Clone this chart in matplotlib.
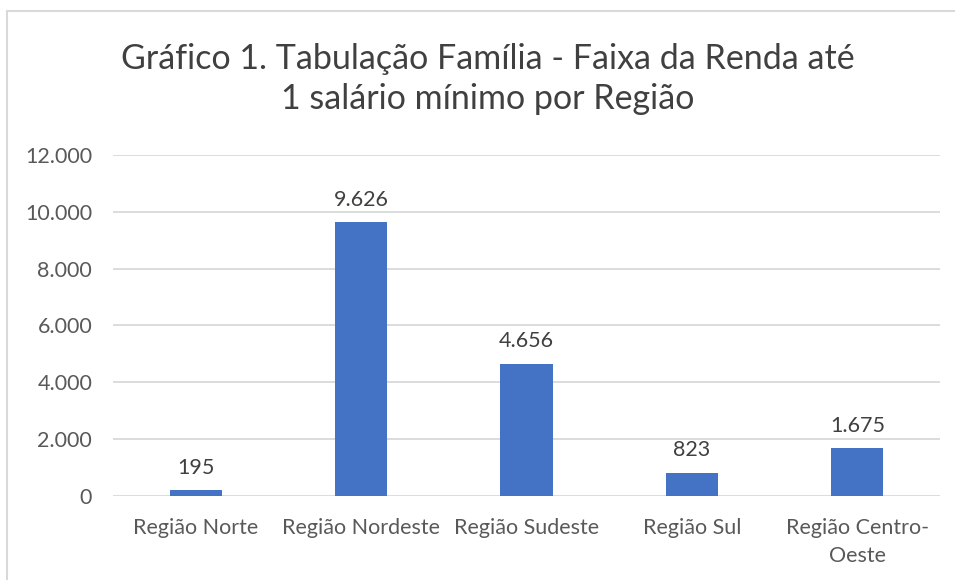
import matplotlib.pyplot as plt
from matplotlib.patches import Rectangle

regioes = ['Região Norte', 'Região Nordeste', 'Região Sudeste', 'Região Sul', 'Região Centro-\nOeste']
familias = [195, 9626, 4656, 823, 1675]
yticks = [0, 2000, 4000, 6000, 8000, 10000, 12000]

plt.rcParams['font.family'] = ['Lato', 'DejaVu Sans']

def fmt(v):
    return f'{v:,}'.replace(',', '.')

fig = plt.figure(figsize=(9.55, 5.8), dpi=100)
ax = fig.add_axes([0.1183, 0.1448, 0.8660, 0.5880])

x = range(len(regioes))
ax.bar(x, familias, width=0.315, color='#4472c4', zorder=3)
for i, v in zip(x, familias):
    ax.annotate(fmt(v), (i, v), xytext=(0, 9), textcoords='offset points',
                ha='center', va='bottom', fontsize=15.5, color='#404040')

ax.set_xlim(-0.5, len(regioes) - 0.5)
ax.set_ylim(0, 12000)
ax.set_yticks(yticks)
ax.set_yticklabels([fmt(t) for t in yticks])
ax.set_xticks(list(x))
ax.set_xticklabels(regioes, linespacing=1.5)
ax.tick_params(axis='both', length=0, labelsize=15.5, labelcolor='#595959')
ax.tick_params(axis='y', pad=15)
ax.tick_params(axis='x', pad=16)
ax.grid(axis='y', color='#d9d9d9', linewidth=1.3, zorder=0)
for s in ax.spines.values():
    s.set_visible(False)

fig.text(0.511, 0.864, 'Gráfico 1. Tabulação Família - Faixa da Renda até\n1 salário mínimo por Região',
         ha='center', va='center', fontsize=24.5, color='#404040', linespacing=1.33)

fig.patches.append(Rectangle((7 / 955, -0.1), 1.1, 1 - 11 / 580 + 0.1,
                             transform=fig.transFigure, fill=False,
                             edgecolor='#d9d9d9', linewidth=1.5))

fig.savefig('out.png')
